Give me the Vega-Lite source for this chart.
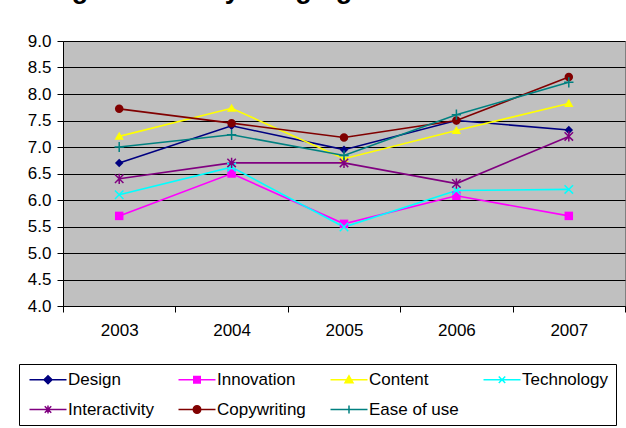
{
  "$schema": "https://vega.github.io/schema/vega-lite/v6.json",
  "width": 562,
  "height": 265,
  "autosize": {"type": "none"},
  "padding": {"left": 63, "top": 41, "right": 1, "bottom": 122},
  "background": "#ffffff",
  "title": {
    "text": "Average Scores by Judging Criteria Chart",
    "font": "Liberation Sans",
    "fontSize": 27,
    "fontWeight": "bold",
    "color": "#000000",
    "anchor": "middle",
    "frame": "group",
    "dx": -79,
    "baseline": "alphabetic",
    "offset": 7
  },
  "config": {
    "view": {"fill": "#C0C0C0", "stroke": "#808080", "strokeWidth": 1},
    "font": "Liberation Sans",
    "axis": {
      "labelFont": "Liberation Sans",
      "labelFontSize": 17,
      "labelColor": "#000000",
      "domainColor": "#000000",
      "tickColor": "#000000",
      "title": null
    }
  },
  "data": {
    "values": [
      {"year": "2003", "series": "Design", "value": 6.7},
      {"year": "2004", "series": "Design", "value": 7.4},
      {"year": "2005", "series": "Design", "value": 6.95},
      {"year": "2006", "series": "Design", "value": 7.5},
      {"year": "2007", "series": "Design", "value": 7.32},
      {"year": "2003", "series": "Innovation", "value": 5.7},
      {"year": "2004", "series": "Innovation", "value": 6.5},
      {"year": "2005", "series": "Innovation", "value": 5.55},
      {"year": "2006", "series": "Innovation", "value": 6.08},
      {"year": "2007", "series": "Innovation", "value": 5.7},
      {"year": "2003", "series": "Content", "value": 7.2},
      {"year": "2004", "series": "Content", "value": 7.73},
      {"year": "2005", "series": "Content", "value": 6.78},
      {"year": "2006", "series": "Content", "value": 7.31},
      {"year": "2007", "series": "Content", "value": 7.82},
      {"year": "2003", "series": "Technology", "value": 6.1},
      {"year": "2004", "series": "Technology", "value": 6.62},
      {"year": "2005", "series": "Technology", "value": 5.49},
      {"year": "2006", "series": "Technology", "value": 6.18},
      {"year": "2007", "series": "Technology", "value": 6.2},
      {"year": "2003", "series": "Interactivity", "value": 6.4},
      {"year": "2004", "series": "Interactivity", "value": 6.7},
      {"year": "2005", "series": "Interactivity", "value": 6.7},
      {"year": "2006", "series": "Interactivity", "value": 6.31},
      {"year": "2007", "series": "Interactivity", "value": 7.2},
      {"year": "2003", "series": "Copywriting", "value": 7.72},
      {"year": "2004", "series": "Copywriting", "value": 7.45},
      {"year": "2005", "series": "Copywriting", "value": 7.18},
      {"year": "2006", "series": "Copywriting", "value": 7.5},
      {"year": "2007", "series": "Copywriting", "value": 8.32},
      {"year": "2003", "series": "Ease of use", "value": 7.0},
      {"year": "2004", "series": "Ease of use", "value": 7.23},
      {"year": "2005", "series": "Ease of use", "value": 6.84},
      {"year": "2006", "series": "Ease of use", "value": 7.61},
      {"year": "2007", "series": "Ease of use", "value": 8.22}
    ]
  },
  "encoding": {
    "x": {
      "field": "year",
      "type": "ordinal",
      "scale": {"type": "band", "paddingInner": 0, "paddingOuter": 0},
      "axis": {"labelAngle": 0, "tickBand": "extent", "tickSize": 6, "labelPadding": 10, "grid": false, "domainWidth": 1}
    },
    "y": {
      "field": "value",
      "type": "quantitative",
      "scale": {"domain": [4, 9], "nice": false, "zero": false},
      "axis": {"values": [4, 4.5, 5, 5.5, 6, 6.5, 7, 7.5, 8, 8.5, 9], "format": ".1f", "tickSize": 6, "labelPadding": 6, "grid": true, "gridColor": "#000000", "gridWidth": 1, "gridOpacity": 1}
    },
    "color": {
      "field": "series",
      "type": "nominal",
      "scale": {
        "domain": ["Design", "Innovation", "Content", "Technology", "Interactivity", "Copywriting", "Ease of use"],
        "range": ["#000080", "#FF00FF", "#FFFF00", "#00FFFF", "#800080", "#800000", "#008080"]
      },
      "legend": {
        "orient": "none",
        "legendX": -44,
        "legendY": 323,
        "direction": "horizontal",
        "columns": 4,
        "title": null,
        "strokeColor": "#000000",
        "fillColor": "#ffffff",
        "padding": 7,
        "labelFont": "Liberation Sans",
        "labelFontSize": 17,
        "labelColor": "#000000",
        "labelLimit": 0,
        "labelOffset": 25,
        "columnPadding": 21,
        "rowPadding": 12,
        "symbolSize": 100,
        "symbolStrokeWidth": 1.5,
        "symbolOpacity": 1,
        "encode": {
          "symbols": {
            "update": {
              "shape": {"signal": "['M-1,0H6.4M2.7,-0.8L3.5,0L2.7,0.8L1.9,0Z','M-1,0H6.4M2.05,-0.65H3.35V0.65H2.05Z','M-1,0H6.4M2.7,-0.8L3.5,0.6L1.9,0.6Z','M-1,0H6.4M2.05,-0.65L3.35,0.65M2.05,0.65L3.35,-0.65','M-1,0H6.4M2.05,-0.65L3.35,0.65M2.05,0.65L3.35,-0.65M2.7,-0.8V0.8','M-1,0H6.4M3.45,0A0.75,0.75,0,1,1,1.95,0A0.75,0.75,0,1,1,3.45,0Z','M-1,0H6.4M2.7,-0.8V0.8'][indexof(['Design','Innovation','Content','Technology','Interactivity','Copywriting','Ease of use'], datum.value)]"},
              "fill": {"scale": "color", "field": "value"},
              "stroke": {"scale": "color", "field": "value"},
              "strokeWidth": {"value": 1.5},
              "opacity": {"value": 1}
            }
          }
        }
      }
    }
  },
  "layer": [
    {"mark": {"type": "line", "strokeWidth": 1.6}},
    {"transform": [{"filter": {"field": "series", "equal": "Design"}}], "mark": {"type": "point", "shape": "M0,-1L1,0L0,1L-1,0Z", "filled": true, "size": 72, "opacity": 1}},
    {"transform": [{"filter": {"field": "series", "equal": "Innovation"}}], "mark": {"type": "point", "shape": "M-1,-1H1V1H-1Z", "filled": true, "size": 72, "opacity": 1}},
    {"transform": [{"filter": {"field": "series", "equal": "Content"}}], "mark": {"type": "point", "shape": "M0,-1.1L1.1,0.8L-1.1,0.8Z", "filled": true, "size": 72, "opacity": 1}},
    {"transform": [{"filter": {"field": "series", "equal": "Technology"}}], "mark": {"type": "point", "shape": "M-1,-1L1,1M-1,1L1,-1", "filled": false, "size": 72, "strokeWidth": 1.5, "opacity": 1}},
    {"transform": [{"filter": {"field": "series", "equal": "Interactivity"}}], "mark": {"type": "point", "shape": "M-1,-1L1,1M-1,1L1,-1M0,-1.2V1.2", "filled": false, "size": 72, "strokeWidth": 1.5, "opacity": 1}},
    {"transform": [{"filter": {"field": "series", "equal": "Copywriting"}}], "mark": {"type": "point", "shape": "M1,0A1,1,0,1,1,-1,0A1,1,0,1,1,1,0Z", "filled": true, "size": 72, "opacity": 1}},
    {"transform": [{"filter": {"field": "series", "equal": "Ease of use"}}], "mark": {"type": "point", "shape": "M-1.1,0H1.1M0,-1.2V1.2", "filled": false, "size": 72, "strokeWidth": 1.5, "opacity": 1}}
  ]
}
